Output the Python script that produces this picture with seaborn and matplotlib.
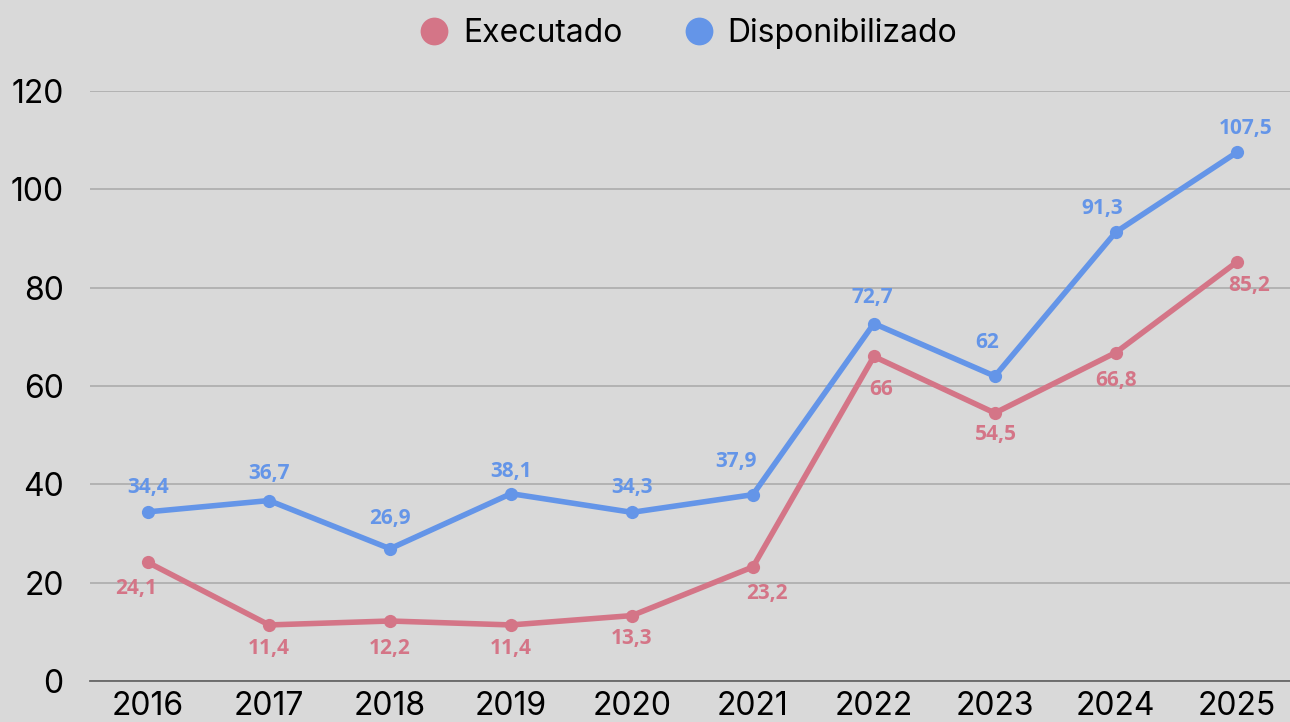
import matplotlib
matplotlib.use("Agg")
import matplotlib.pyplot as plt
from matplotlib.lines import Line2D
import seaborn as sns
import pandas as pd

years = ["2016", "2017", "2018", "2019", "2020", "2021", "2022", "2023", "2024", "2025"]
executado = [24.1, 11.4, 12.2, 11.4, 13.3, 23.2, 66, 54.5, 66.8, 85.2]
disponibilizado = [34.4, 36.7, 26.9, 38.1, 34.3, 37.9, 72.7, 62, 91.3, 107.5]
series_names = ["Executado", "Disponibilizado"]
colors = {"Executado": "#d47587", "Disponibilizado": "#6495e8"}
yticks = [0, 20, 40, 60, 80, 100, 120]

# label placement offsets in pixels (dx, dy; dy positive = upward)
disp_offsets = [(0, 24), (0, 27), (0, 30), (0, 22), (0, 25), (-17, 33), (-2, 26), (-8, 34), (-14, 24), (9, 24)]
exec_offsets = [(-12, -26), (0, -24), (0, -27), (0, -24), (0, -23), (14, -27), (7, -33), (1, -21), (0, -28), (12, -23)]

sns.set_theme(style="white")
plt.rcParams["font.family"] = ["Inter", "DejaVu Sans"]

df = pd.DataFrame({
    "ano": years * 2,
    "valor": executado + disponibilizado,
    "serie": ["Executado"] * len(years) + ["Disponibilizado"] * len(years),
})

bg = "#d9d9d9"
fig = plt.figure(figsize=(12.9, 7.22), dpi=100, facecolor=bg)
ax = fig.add_axes([0.0698, 0.0568, 0.9302, 0.8172])
ax.set_facecolor(bg)

sns.lineplot(data=df, x="ano", y="valor", hue="serie", hue_order=series_names,
             palette=colors, marker="o", markersize=9.5, markeredgewidth=0,
             linewidth=4, ax=ax, legend=False, sort=False)

def fmt(v):
    return ("%g" % v).replace(".", ",")

px2pt = 0.72
for vals, offs, name in [(disponibilizado, disp_offsets, "Disponibilizado"),
                         (executado, exec_offsets, "Executado")]:
    for i, (v, (dx, dy)) in enumerate(zip(vals, offs)):
        ax.annotate(fmt(v), (i, v), xytext=(dx * px2pt, dy * px2pt), textcoords="offset points",
                    ha="center", va="center", fontsize=15, fontweight="bold",
                    color=colors[name], family=["Open Sans", "DejaVu Sans"])

ax.set_ylim(0, 120)
ax.set_xlim(-0.48, 9.44)
ax.set_yticks(yticks)
ax.yaxis.grid(True, color="#a8a8a8", linewidth=1.1)
ax.xaxis.grid(False)
ax.set_axisbelow(True)
for s in ["top", "right", "left"]:
    ax.spines[s].set_visible(False)
ax.spines["bottom"].set_color("#666666")
ax.spines["bottom"].set_linewidth(1.3)
ax.tick_params(axis="both", length=0, labelsize=23, labelcolor="black")
ax.tick_params(axis="y", pad=19)
ax.tick_params(axis="x", pad=7)
ax.set_xlabel("")
ax.set_ylabel("")

handles = [Line2D([0], [0], marker="o", linestyle="", markersize=20,
                  markerfacecolor=colors[n], markeredgewidth=0) for n in series_names]
leg = fig.legend(handles, series_names, loc="center", bbox_to_anchor=(0.532, 0.953),
                 ncol=2, frameon=False, fontsize=23, handletextpad=0.31,
                 columnspacing=1.77, handlelength=1.2)
for t in leg.get_texts():
    t.set_color("black")

fig.savefig("out.png", dpi=100, facecolor=bg)
